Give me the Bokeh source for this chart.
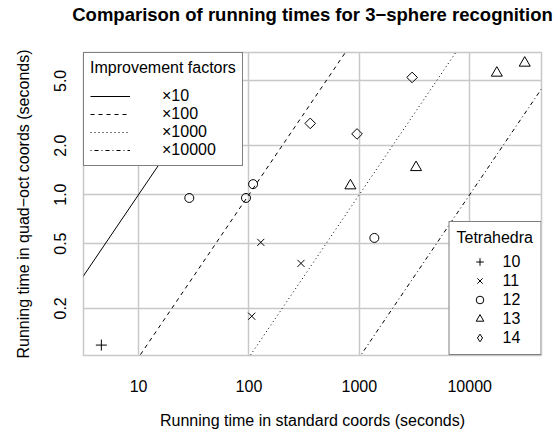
import math
from bokeh.plotting import figure
from bokeh.models import Range1d, FixedTicker, Legend, LegendItem, PrintfTickFormatter, Title
from bokeh.embed import file_html
from bokeh.resources import INLINE

# ---------------- data ----------------
title_text = "Comparison of running times for 3\u2212sphere recognition"
x_label = "Running time in standard coords (seconds)"
y_label = "Running time in quad\u2212oct coords (seconds)"

x_ticks = [10, 100, 1000, 10000]
y_ticks = [0.2, 0.5, 1.0, 2.0, 5.0]

factors = [10, 100, 1000, 10000]
factor_labels = ["\u00d710", "\u00d7100", "\u00d71000", "\u00d710000"]
factor_dashes = ["solid", "4 4", "1 3", "1 3 4 3"]

tet_labels = ["10", "11", "12", "13", "14"]
tet10_x = [4.6]
tet10_y = [0.119]
tet11_x = [106, 128, 296]
tet11_y = [0.179, 0.509, 0.378]
tet12_x = [28.8, 94, 109, 1368]
tet12_y = [0.954, 0.954, 1.16, 0.542]
tet13_x = [830, 3265, 17600, 31500]
tet13_y = [1.135, 1.47, 5.59, 6.44]
tet14_x = [359, 953, 3006]
tet14_y = [2.74, 2.36, 5.25]

x_lo, x_hi = 3.17, 44700
y_lo, y_hi = 0.1027, 7.47

FONT = "Liberation Sans"
GRID = "#c8c8c8"

p = figure(width=554, height=434, x_axis_type="log", y_axis_type="log",
           x_range=Range1d(x_lo, x_hi), y_range=Range1d(y_lo, y_hi),
           output_backend="svg", toolbar_location=None,
           min_border_left=83, min_border_right=13, min_border_top=52, min_border_bottom=79)

# main title; a blank spacer title sits between it and the frame
p.title.text = title_text
p.title.text_font = FONT
p.title.text_font_size = "18.5px"
p.title.text_font_style = "bold"
p.title.align = "center"
p.title.text_color = "black"
p.title.standoff = 0
spacer = Title(text=" ", text_font=FONT, text_font_size="23px", standoff=0)
p.add_layout(spacer, "above")

p.xaxis.ticker = FixedTicker(ticks=x_ticks)
p.yaxis.ticker = FixedTicker(ticks=y_ticks)
p.xaxis.formatter = PrintfTickFormatter(format="%d")
p.yaxis.formatter = PrintfTickFormatter(format="%.1f")
p.xaxis.axis_label = x_label
p.yaxis.axis_label = y_label
p.yaxis.major_label_orientation = "vertical"

for ax in (p.xaxis[0], p.yaxis[0]):
    ax.axis_line_color = None
    ax.major_tick_line_color = None
    ax.minor_tick_line_color = None
    ax.major_tick_out = 0
    ax.major_tick_in = 0
    ax.minor_tick_out = 0
    ax.minor_tick_in = 0
    ax.major_label_text_font = FONT
    ax.major_label_text_font_size = "16px"
    ax.major_label_text_color = "black"
    ax.axis_label_text_font = FONT
    ax.axis_label_text_font_size = "16px"
    ax.axis_label_text_font_style = "normal"
    ax.axis_label_text_color = "black"

p.xaxis.major_label_standoff = 24
p.xaxis.axis_label_standoff = 17
p.yaxis.major_label_standoff = 17
p.yaxis.axis_label_standoff = 20

p.xgrid.grid_line_color = GRID
p.ygrid.grid_line_color = GRID
p.xgrid.grid_line_width = 1.5
p.ygrid.grid_line_width = 1.5
p.outline_line_color = GRID
p.outline_line_width = 1.5
p.background_fill_color = "white"
p.border_fill_color = "white"

# improvement factor lines y = x / factor
line_x = [1.0, 1.0e5]
line_renderers = []
for f, dash in zip(factors, factor_dashes):
    r = p.line(line_x, [v / f for v in line_x], line_color="black", line_width=1, line_dash=dash)
    line_renderers.append(r)

common = dict(line_color="black", fill_color=None, line_width=1)
s10 = p.scatter(tet10_x, tet10_y, marker="cross", size=11, **common)
s11 = p.scatter(tet11_x, tet11_y, marker="x", size=10, **common)
s12 = p.scatter(tet12_x, tet12_y, marker="circle", size=9, **common)
s13 = p.scatter(tet13_x, tet13_y, marker="triangle", size=11, **common)
s14 = p.scatter(tet14_x, tet14_y, marker="square", angle=math.pi / 4, size=7.5, **common)
# legend key for the diamond symbol (same data, hidden on the plot itself)
s14_key = p.scatter(tet14_x, tet14_y, marker="diamond", size=10, visible=False, **common)

leg1 = Legend(items=[LegendItem(label=l, renderers=[r]) for l, r in zip(factor_labels, line_renderers)],
              title="Improvement factors", location="top_left")
leg2 = Legend(items=[LegendItem(label=l, renderers=[r]) for l, r in zip(tet_labels, [s10, s11, s12, s13, s14_key])],
              title="Tetrahedra", location="bottom_right")

for lg in (leg1, leg2):
    lg.margin = 0
    lg.border_line_color = "black"
    lg.border_line_width = 1
    lg.background_fill_color = "white"
    lg.background_fill_alpha = 1.0
    lg.label_text_font = FONT
    lg.label_text_font_size = "16px"
    lg.label_text_color = "black"
    lg.title_text_font = FONT
    lg.title_text_font_size = "16px"
    lg.title_text_font_style = "normal"
    lg.title_text_color = "black"
    lg.spacing = 0
    lg.click_policy = "none"

leg1.padding = 6
leg1.title_standoff = 10
leg1.label_height = 18
leg1.glyph_height = 18
leg1.glyph_width = 40
leg1.label_standoff = 32

leg2.padding = 7
leg2.title_standoff = 5
leg2.label_height = 19
leg2.glyph_height = 19
leg2.glyph_width = 46
leg2.label_standoff = 0

p.add_layout(leg1, "center")
p.add_layout(leg2, "center")

open("out.html", "w").write(file_html(p, INLINE))
